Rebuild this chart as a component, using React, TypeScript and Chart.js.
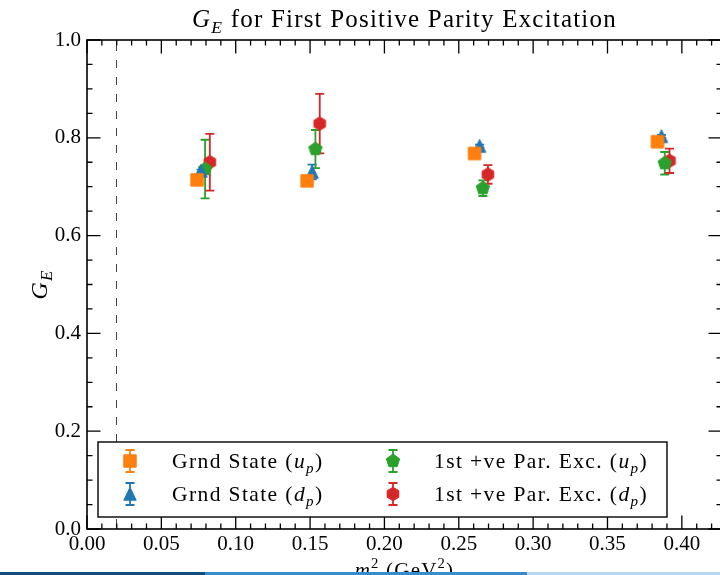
import React, { useEffect, useRef } from "react";
import { Chart, registerables } from "chart.js";

Chart.register(...registerables);

const FONT = "'Liberation Serif', 'Times New Roman', serif";

// ---- data ----
const grndUpX = [0.074, 0.148, 0.2606, 0.3836];
const grndUpY = [0.714, 0.712, 0.768, 0.792];
const grndUpErr = [0.007, 0.007, 0.007, 0.007];

const grndDpX = [0.0767, 0.1514, 0.264, 0.3863];
const grndDpY = [0.732, 0.73, 0.783, 0.803];
const grndDpErr = [0.003, 0.015, 0.003, 0.003];

const excUpX = [0.0794, 0.1536, 0.2662, 0.3885];
const excUpY = [0.736, 0.777, 0.697, 0.748];
const excUpErr = [0.06, 0.039, 0.016, 0.023];

const excDpX = [0.0826, 0.1565, 0.2696, 0.3917];
const excDpY = [0.75, 0.829, 0.725, 0.753];
const excDpErr = [0.058, 0.061, 0.019, 0.025];

const physicalPionMassSq = 0.0195;

const xMin = 0;
const xMax = 0.427;
const yMin = 0;
const yMax = 1.0;
const xMajorStep = 0.05;
const xMinorStep = 0.01;
const yMajorStep = 0.2;
const yMinorStep = 0.05;

const seriesNames = ["Grnd State (", "Grnd State (", "1st +ve Par. Exc. (", "1st +ve Par. Exc. ("];
const seriesQuark = ["u", "d", "u", "d"];

const COLORS = ["#ff7f0e", "#1f77b4", "#2ca02c", "#d62728"];
const SHAPES = ["square", "triangle", "pentagon", "hexagon"];

type Seg = { t: string; it?: boolean; sub?: boolean; sup?: boolean; stack?: string; stackIt?: boolean };

function segFont(s: { it?: boolean; sub?: boolean; sup?: boolean }, size: number) {
  const sz = s.sub || s.sup ? size * 0.7 : size;
  return `${s.it ? "italic " : ""}${sz}px ${FONT}`;
}

function segWidth(ctx: CanvasRenderingContext2D, s: Seg, size: number) {
  ctx.font = segFont(s, size);
  let w = ctx.measureText(s.t).width;
  if (s.stack) {
    ctx.font = segFont({ sub: true, it: s.stackIt }, size);
    w = Math.max(w, ctx.measureText(s.stack).width);
  }
  return w;
}

function drawRich(
  ctx: CanvasRenderingContext2D,
  segs: Seg[],
  x: number,
  y: number,
  size: number,
  align: "left" | "center" | "right"
) {
  const total = segs.reduce((a, s) => a + segWidth(ctx, s, size), 0);
  let cx = align === "center" ? x - total / 2 : align === "right" ? x - total : x;
  ctx.textAlign = "left";
  ctx.textBaseline = "alphabetic";
  for (const s of segs) {
    const w = segWidth(ctx, s, size);
    ctx.font = segFont(s, size);
    const dy = s.sub ? size * 0.22 : s.sup ? -size * 0.42 : 0;
    ctx.fillText(s.t, cx, y + dy);
    if (s.stack) {
      ctx.font = segFont({ sub: true, it: s.stackIt }, size);
      ctx.fillText(s.stack, cx, y + size * 0.28);
    }
    cx += w;
  }
}

function makeMarker(shape: string, color: string): HTMLCanvasElement {
  const S = 20;
  const c = document.createElement("canvas");
  c.width = S;
  c.height = S;
  const g = c.getContext("2d")!;
  g.fillStyle = color;
  g.strokeStyle = color;
  g.lineWidth = 1;
  const cx = S / 2;
  const cy = S / 2;
  const h = 6.2;
  g.beginPath();
  if (shape === "square") {
    g.rect(cx - h, cy - h, 2 * h, 2 * h);
  } else if (shape === "triangle") {
    g.moveTo(cx, cy - h - 0.5);
    g.lineTo(cx - h, cy + h);
    g.lineTo(cx + h, cy + h);
    g.closePath();
  } else {
    const n = shape === "pentagon" ? 5 : 6;
    const r = shape === "pentagon" ? 7 : 6.7;
    for (let k = 0; k < n; k++) {
      const a = -Math.PI / 2 + (k * 2 * Math.PI) / n;
      const px = cx + r * Math.cos(a);
      const py = cy + r * Math.sin(a);
      if (k === 0) g.moveTo(px, py);
      else g.lineTo(px, py);
    }
    g.closePath();
  }
  g.fill();
  g.stroke();
  return c;
}

function drawErrorBar(
  ctx: CanvasRenderingContext2D,
  x: number,
  yTop: number,
  yBot: number,
  color: string
) {
  ctx.save();
  ctx.strokeStyle = color;
  ctx.lineWidth = 1.8;
  ctx.beginPath();
  ctx.moveTo(x, yTop);
  ctx.lineTo(x, yBot);
  ctx.moveTo(x - 4.5, yTop);
  ctx.lineTo(x + 4.5, yTop);
  ctx.moveTo(x - 4.5, yBot);
  ctx.lineTo(x + 4.5, yBot);
  ctx.stroke();
  ctx.restore();
}

export default function App() {
  const ref = useRef<HTMLCanvasElement | null>(null);

  useEffect(() => {
    const canvas = ref.current;
    if (!canvas) return;
    const markers = SHAPES.map((s, i) => makeMarker(s, COLORS[i]));
    const xs = [grndUpX, grndDpX, excUpX, excDpX];
    const ys = [grndUpY, grndDpY, excUpY, excDpY];
    const errs = [grndUpErr, grndDpErr, excUpErr, excDpErr];

    const datasets = xs.map((xv, i) => ({
      label: seriesNames[i] + seriesQuark[i] + "_p)",
      data: xv.map((x, j) => ({ x, y: ys[i][j] })),
      pointStyle: markers[i] as any,
      pointRadius: 7,
      showLine: false,
      backgroundColor: COLORS[i],
      borderColor: COLORS[i],
      errors: errs[i],
    }));

    const decor = {
      id: "decor",
      beforeDraw(chart: any) {
        const ctx = chart.ctx as CanvasRenderingContext2D;
        ctx.save();
        ctx.fillStyle = "#ffffff";
        ctx.fillRect(0, 0, chart.width, chart.height);
        ctx.restore();
      },
      beforeDatasetsDraw(chart: any) {
        const ctx = chart.ctx as CanvasRenderingContext2D;
        const xs_ = chart.scales.x;
        const ys_ = chart.scales.y;
        const area = chart.chartArea;
        // dashed physical point line
        ctx.save();
        ctx.strokeStyle = "#444";
        ctx.lineWidth = 1;
        ctx.setLineDash([8, 9]);
        const px = Math.round(xs_.getPixelForValue(physicalPionMassSq)) + 0.5;
        ctx.beginPath();
        ctx.moveTo(px, area.top + 3);
        ctx.lineTo(px, area.bottom);
        ctx.stroke();
        ctx.restore();
        // error bars
        chart.data.datasets.forEach((ds: any, i: number) => {
          ds.data.forEach((p: any, j: number) => {
            const e = ds.errors[j];
            drawErrorBar(
              ctx,
              xs_.getPixelForValue(p.x),
              ys_.getPixelForValue(p.y + e),
              ys_.getPixelForValue(p.y - e),
              COLORS[i]
            );
          });
        });
      },
      afterDraw(chart: any) {
        const ctx = chart.ctx as CanvasRenderingContext2D;
        const xs_ = chart.scales.x;
        const ys_ = chart.scales.y;
        const a = chart.chartArea;
        ctx.save();
        // frame
        ctx.strokeStyle = "#000";
        ctx.lineWidth = 1.6;
        ctx.strokeRect(a.left, a.top, a.right - a.left, a.bottom - a.top);
        // ticks
        ctx.lineWidth = 1.3;
        ctx.beginPath();
        const nx = Math.floor((xMax - xMin) / xMinorStep + 1e-6);
        for (let k = 0; k <= nx; k++) {
          const v = xMin + k * xMinorStep;
          const major = Math.abs(v / xMajorStep - Math.round(v / xMajorStep)) < 1e-6;
          const L = major ? 13.5 : 5.5;
          const p = xs_.getPixelForValue(v);
          ctx.moveTo(p, a.bottom);
          ctx.lineTo(p, a.bottom - L);
          ctx.moveTo(p, a.top);
          ctx.lineTo(p, a.top + L);
        }
        const ny = Math.round((yMax - yMin) / yMinorStep);
        for (let k = 0; k <= ny; k++) {
          const v = yMin + k * yMinorStep;
          const major = Math.abs(v / yMajorStep - Math.round(v / yMajorStep)) < 1e-6;
          const L = major ? 13.5 : 5.5;
          const p = ys_.getPixelForValue(v);
          ctx.moveTo(a.left, p);
          ctx.lineTo(a.left + L, p);
          ctx.moveTo(a.right, p);
          ctx.lineTo(a.right - L, p);
        }
        ctx.stroke();

        ctx.fillStyle = "#000";
        (ctx as any).letterSpacing = "1.2px";
        // title
        const cxm = (a.left + a.right) / 2;
        drawRich(
          ctx,
          [
            { t: "G", it: true },
            { t: "E", it: true, sub: true },
            { t: " for First Positive Parity Excitation" },
          ],
          cxm,
          27,
          25,
          "center"
        );
        // x axis title
        drawRich(
          ctx,
          [
            { t: "m", it: true },
            { t: "2", sup: true, stack: "π", stackIt: true },
            { t: " (GeV" },
            { t: "2", sup: true },
            { t: ")" },
          ],
          cxm,
          577,
          21,
          "center"
        );
        // y axis title
        ctx.save();
        ctx.translate(47, (a.top + a.bottom) / 2);
        ctx.rotate(-Math.PI / 2);
        drawRich(
          ctx,
          [
            { t: "G", it: true },
            { t: "E", it: true, sub: true },
          ],
          0,
          0,
          24,
          "center"
        );
        ctx.restore();

        // legend
        (ctx as any).letterSpacing = "1.4px";
        const lx = 98;
        const ly = 442;
        const lw = 569;
        const lh = 75;
        ctx.fillStyle = "#fff";
        ctx.fillRect(lx, ly, lw, lh);
        ctx.strokeStyle = "#000";
        ctx.lineWidth = 1.4;
        ctx.strokeRect(lx, ly, lw, lh);
        const rows = [461, 494];
        const colMarker = [130, 393];
        const colText = [172, 434];
        for (let i = 0; i < 4; i++) {
          const col = i < 2 ? 0 : 1;
          const row = i % 2;
          const mx = colMarker[col];
          const my = rows[row];
          drawErrorBar(ctx, mx, my - 11, my + 11, COLORS[i]);
          ctx.drawImage(markers[i], mx - 10, my - 10);
          ctx.fillStyle = "#000";
          drawRich(
            ctx,
            [
              { t: seriesNames[i] },
              { t: seriesQuark[i], it: true },
              { t: "p", it: true, sub: true },
              { t: ")" },
            ],
            colText[col],
            my + 7,
            21.5,
            "left"
          );
        }
        (ctx as any).letterSpacing = "0px";
        ctx.restore();
      },
    };

    const chart = new Chart(canvas, {
      type: "scatter",
      data: { datasets: datasets as any },
      options: {
        animation: false,
        responsive: false,
        devicePixelRatio: 1,
        events: [],
        layout: { padding: { top: 40, left: 0, right: 18, bottom: 0 } },
        plugins: {
          legend: { display: false },
          title: { display: false },
          tooltip: { enabled: false },
        },
        scales: {
          x: {
            type: "linear",
            min: xMin,
            max: xMax,
            grid: { display: false, drawTicks: false },
            border: { display: false },
            afterFit: (s: any) => {
              s.height = 71;
            },
            ticks: {
              stepSize: xMajorStep,
              includeBounds: false,
              autoSkip: false,
              maxRotation: 0,
              padding: 3,
              color: "#000",
              font: { family: FONT, size: 21 },
              callback: (v: any) => Number(v).toFixed(2),
            },
          },
          y: {
            type: "linear",
            min: yMin,
            max: yMax,
            grid: { display: false, drawTicks: false },
            border: { display: false },
            afterFit: (s: any) => {
              s.width = 87;
            },
            ticks: {
              stepSize: yMajorStep,
              autoSkip: false,
              padding: 6,
              color: "#000",
              font: { family: FONT, size: 21 },
              callback: (v: any) => Number(v).toFixed(1),
            },
          },
        },
      } as any,
      plugins: [decor as any],
    });
    return () => chart.destroy();
  }, []);

  return (
    <div
      style={{
        position: "fixed",
        left: 0,
        top: 0,
        width: 720,
        height: 575,
        overflow: "hidden",
        background: "#fff",
      }}
    >
      <canvas
        ref={ref}
        width={740}
        height={600}
        style={{ position: "absolute", left: 0, top: 0, width: 740, height: 600 }}
      />
      <div style={{ position: "absolute", left: 0, top: 572, width: 205, height: 3, background: "#124e80" }} />
      <div style={{ position: "absolute", left: 205, top: 572, width: 322, height: 3, background: "#3a8bcb" }} />
      <div style={{ position: "absolute", left: 527, top: 572, width: 193, height: 3, background: "#bcd6f0" }} />
    </div>
  );
}
